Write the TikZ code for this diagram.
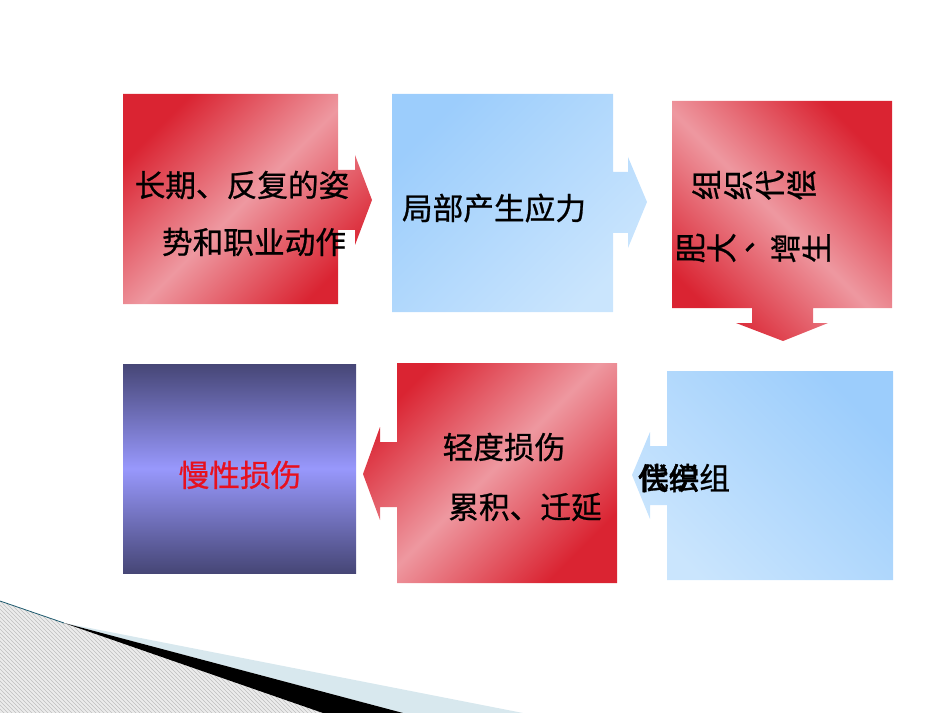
\documentclass[tikz,border=0pt]{standalone}
\usepackage{fontspec}
\newfontfamily\cjk[FakeBold=0.8]{Noto Sans CJK SC}
\usetikzlibrary{patterns}
\definecolor{rdark}{RGB}{218,36,50}
\definecolor{rlight}{RGB}{238,152,160}
\definecolor{bdark}{RGB}{156,205,252}
\definecolor{blight}{RGB}{202,229,253}
\definecolor{pdark}{RGB}{70,70,118}
\definecolor{plight}{RGB}{152,152,252}
\definecolor{swblue}{RGB}{216,232,238}
\definecolor{swteal}{RGB}{30,90,110}
\definecolor{txtred}{RGB}{232,16,30}
\tikzset{
  lbl/.style={font=\cjk\fontsize{23pt}{28pt}\selectfont, inner sep=0pt, text=black},
  vch/.style={lbl, rotate=90, text height=0.88em, text depth=0.12em},
  redA/.style={top color=rdark, bottom color=rdark, middle color=rlight, shading angle=45},
  redB/.style={top color=rdark, bottom color=rdark, middle color=rlight, shading angle=-45},
  blueA/.style={top color=bdark, bottom color=blight, shading angle=45},
  blueB/.style={top color=bdark, bottom color=blight, shading angle=-45},
  purp/.style={top color=pdark, bottom color=pdark, middle color=plight},
}
\begin{document}
\begin{tikzpicture}[x=0.75pt,y=-0.75pt]
\useasboundingbox (0,0) rectangle (950,713);
% bottom-left swoosh
\fill[gray!15] (0,601) -- (325,713) -- (0,713) -- cycle;
\fill[pattern=north west lines, pattern color=gray!50] (0,601) -- (325,713) -- (0,713) -- cycle;
\fill[swblue] (64,623) -- (523,713) -- (403,713) -- cycle;
\fill[black] (64,623) -- (403,713) -- (323,713) -- cycle;
\draw[swteal, line width=0.6pt] (0,601) -- (64,623);
% box 1
\path[redA] (123,94) -- (338,94) -- (338,170) -- (355,170) -- (355,155) -- (372,200)
  -- (355,245) -- (355,230) -- (338,230) -- (338,304) -- (123,304) -- cycle;
% box 2
\path[blueA] (392,94) -- (613,94) -- (613,172) -- (628,172) -- (628,157) -- (647,202)
  -- (628,248) -- (628,233) -- (613,233) -- (613,312) -- (392,312) -- cycle;
% box 3
\path[redB] (672,101) -- (892,101) -- (892,308) -- (813,308) -- (813,323) -- (828,323)
  -- (783,341) -- (736,323) -- (752,323) -- (752,308) -- (672,308) -- cycle;
% box 4
\path[blueB] (667,371) -- (893,371) -- (893,580) -- (667,580) -- (667,505) -- (650,505)
  -- (650,519) -- (632,475) -- (650,432) -- (650,446) -- (667,446) -- cycle;
% box 5
\path[redA] (397,363) -- (617,363) -- (617,583) -- (397,583) -- (397,507) -- (380,507)
  -- (380,520) -- (363,474) -- (380,427) -- (380,442) -- (397,442) -- cycle;
% box 6
\path[purp] (123,364) rectangle (356,573);
% texts
\node[lbl] (t1a) at (242,185) {长期、反复的姿};
\node[lbl] (t1b) at (254,242) {势和职业动作};
\node[lbl] (t2) at (494,208) {局部产生应力};
\foreach \c [count=\i] in {组,织,代,偿}
  \node[vch] (t3a\i) at ({713+(\i-1)*31.7},185) {\c};
\node[vch] (t3b1) at (697,248) {肥};
\node[vch] (t3b2) at (728,248) {大};
\node[lbl, rotate=90] (t3b3) at (750,238) {、};
\node[vch] (t3b4) at (792,248) {增};
\node[vch] (t3b5) at (823,248) {生};
\node[lbl] (t4) at (684,478) {\rlap{代偿}偿织组};
\node[lbl] (t5a) at (504,447) {轻度损伤};
\node[lbl] (t5b) at (525,507) {累积、迁延};
\node[lbl, text=txtred] (t6) at (240,475) {慢性损伤};
\end{tikzpicture}
\end{document}
